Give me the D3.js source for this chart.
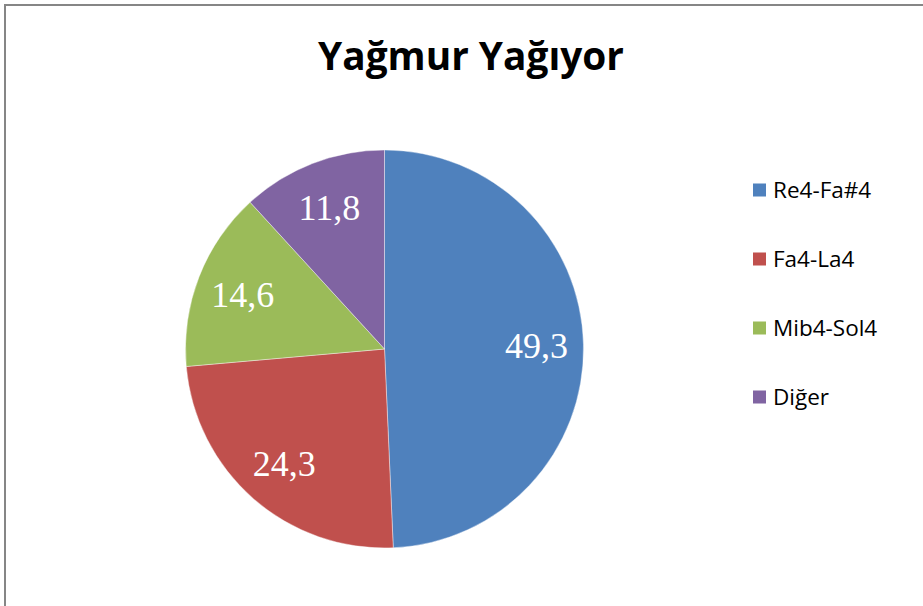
<!DOCTYPE html>
<html><head><meta charset="utf-8">
<script src="https://cdn.jsdelivr.net/npm/d3@7"></script>
<style>html,body{margin:0;padding:0;background:#fff;}</style>
</head><body>
<svg id="chart" width="923" height="606"></svg>
<script>
const title = "Yağmur Yağıyor";
const categories = ["Re4-Fa#4", "Fa4-La4", "Mib4-Sol4", "Diğer"];
const values = [49.3, 24.3, 14.6, 11.8];
const labels = ["49,3", "24,3", "14,6", "11,8"];
const colors = ["#4F81BD", "#C0504D", "#9BBB59", "#8064A2"];

const svg = d3.select("#chart");
svg.append("rect").attr("x", 0).attr("y", 0).attr("width", 923).attr("height", 606).attr("fill", "#fff");
svg.append("rect").attr("x", 5).attr("y", 5).attr("width", 1200).attr("height", 1200)
  .attr("fill", "none").attr("stroke", "#868686").attr("stroke-width", 2);

svg.append("text").attr("x", 471).attr("y", 70).attr("text-anchor", "middle")
  .attr("font-family", "'Open Sans', sans-serif").attr("font-weight", "bold")
  .attr("font-size", 38.8).attr("fill", "#000").text(title);

const cx = 384.5, cy = 349, r = 199;
const pie = d3.pie().sort(null).value(d => d)(values);
const arc = d3.arc().innerRadius(0).outerRadius(r);
const labelArc = d3.arc().innerRadius(152).outerRadius(152);
const g = svg.append("g").attr("transform", `translate(${cx},${cy})`);
g.selectAll("path").data(pie).join("path")
  .attr("d", arc).attr("fill", (d, i) => colors[i])
  .attr("stroke", "#ffffff").attr("stroke-opacity", 0.5).attr("stroke-width", 0.8);
g.selectAll("text").data(pie).join("text")
  .attr("transform", d => `translate(${labelArc.centroid(d)})`)
  .attr("text-anchor", "middle").attr("dy", "0.35em")
  .attr("font-family", "'Liberation Serif', 'Times New Roman', serif")
  .attr("font-size", 36).attr("fill", "#fff")
  .text((d, i) => labels[i]);

const leg = svg.append("g");
const ly = d3.scalePoint().domain(categories).range([190, 397]);
categories.forEach((c, i) => {
  leg.append("rect").attr("x", 753).attr("y", ly(c) - 6.5).attr("width", 13).attr("height", 13).attr("fill", colors[i]);
  leg.append("text").attr("x", 773).attr("y", ly(c)).attr("dy", "0.36em")
    .attr("font-family", "'Open Sans', sans-serif").attr("font-size", 22.5).attr("fill", "#000").text(c);
});
</script>
</body></html>
